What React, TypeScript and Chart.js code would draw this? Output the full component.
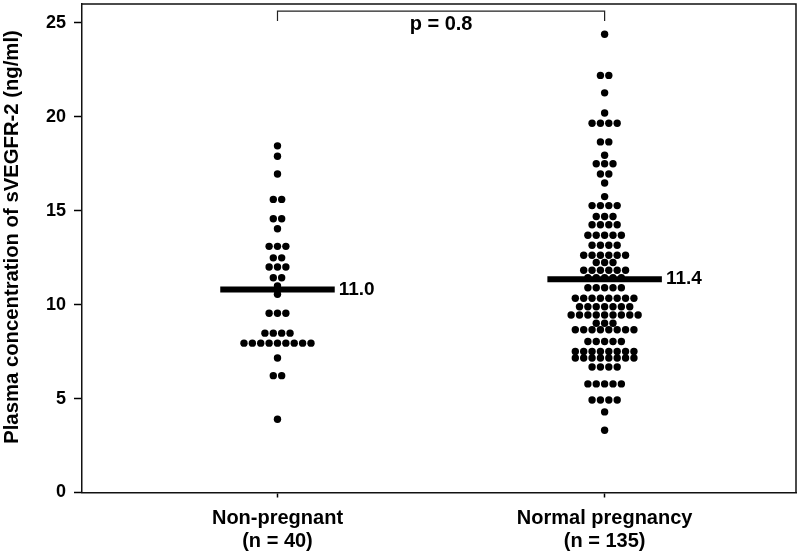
import React, { useEffect, useRef } from "react";
import { Chart, registerables } from "chart.js";

Chart.register(...registerables);

// ---- Data ----
const categories = ["Non-pregnant", "Normal pregnancy"];
const sampleSizes = ["(n = 40)", "(n = 135)"];
const categoryPositions = [1, 2];

// Dot plot rows: value of the row and the number of dots in it
const nonPregnantValues = [18.45, 17.9, 16.95, 15.6, 14.57, 14.04, 13.1, 12.49, 12.0, 11.43, 11.0, 10.55, 9.54, 8.48, 7.95, 7.16, 6.22, 3.9];
const nonPregnantCounts = [1, 1, 1, 2, 2, 1, 3, 2, 3, 2, 1, 1, 3, 4, 9, 1, 2, 1];

const normalPregnancyValues = [24.39, 22.2, 21.27, 20.2, 19.65, 18.66, 17.95, 17.5, 16.95, 16.47, 15.75, 15.27, 14.69, 14.25, 13.69, 13.16, 12.63, 12.24, 11.83, 11.43, 10.9, 10.34, 9.89, 9.45, 9.01, 8.66, 8.04, 7.51, 7.16, 6.68, 5.78, 4.92, 4.29, 3.31];
const normalPregnancyCounts = [1, 2, 1, 1, 4, 2, 1, 3, 2, 1, 1, 4, 3, 4, 5, 4, 6, 3, 6, 5, 5, 8, 7, 9, 3, 8, 5, 8, 8, 4, 5, 4, 1, 1];

const medianValues = [10.8, 11.35];
const medianLabels = ["11.0", "11.4"];
const pValueLabel = "p = 0.8";
const bracketTop = 25.62;
const bracketEnd = 25.09;
const pLabelValue = 24.9;

const yTicks = [0, 5, 10, 15, 20, 25];
const yTitle = "Plasma concentration of sVEGFR-2 (ng/ml)";

// ---- Layout constants ----
const FONT = "'Liberation Sans', Arial, Helvetica, sans-serif";
const DOT_STEP = 0.0256; // horizontal spacing between dots (x units)
const MEDIAN_HALF = 0.175;

function swarm(center: number, values: number[], counts: number[]) {
  const pts: { x: number; y: number }[] = [];
  values.forEach((v, i) => {
    const n = counts[i];
    for (let k = 0; k < n; k++) {
      pts.push({ x: center + (k - (n - 1) / 2) * DOT_STEP, y: v });
    }
  });
  return pts;
}

const overlayPlugin = {
  id: "overlay",
  afterDatasetsDraw(chart: any) {
    const { ctx, chartArea, scales } = chart;
    const xs = scales.x;
    const ys = scales.y;
    ctx.save();
    // box top & right
    ctx.strokeStyle = "#111";
    ctx.lineWidth = 1.5;
    ctx.beginPath();
    ctx.moveTo(chartArea.left, chartArea.top);
    ctx.lineTo(chartArea.right, chartArea.top);
    ctx.lineTo(chartArea.right, chartArea.bottom);
    ctx.stroke();

    ctx.fillStyle = "#000";
    ctx.font = `bold 19px ${FONT}`;
    ctx.textBaseline = "middle";
    ctx.textAlign = "left";
    categoryPositions.forEach((c, i) => {
      const x = xs.getPixelForValue(c + MEDIAN_HALF) + 4;
      const y = ys.getPixelForValue(medianValues[i]);
      ctx.fillText(medianLabels[i], x, y);
    });

    ctx.font = `bold 20px ${FONT}`;
    ctx.textAlign = "center";
    ctx.fillText(
      pValueLabel,
      xs.getPixelForValue((categoryPositions[0] + categoryPositions[1]) / 2),
      ys.getPixelForValue(pLabelValue)
    );

    // y-axis title
    ctx.translate(12, 237);
    ctx.rotate(-Math.PI / 2);
    ctx.font = `bold 20.3px ${FONT}`;
    ctx.textAlign = "center";
    ctx.textBaseline = "middle";
    ctx.fillText(yTitle, 0, 0);
    ctx.restore();
  },
};

export default function App() {
  const ref = useRef<HTMLCanvasElement | null>(null);

  useEffect(() => {
    if (!ref.current) return;
    const medianDatasets = categoryPositions.map((c, i) => ({
      type: "line" as const,
      data: [
        { x: c - MEDIAN_HALF, y: medianValues[i] },
        { x: c + MEDIAN_HALF, y: medianValues[i] },
      ],
      borderColor: "#000",
      borderWidth: 6,
      pointRadius: 0,
      showLine: true,
      borderCapStyle: "butt" as const,
      order: 0,
    }));
    const chart = new Chart(ref.current, {
      type: "scatter",
      data: {
        datasets: [
          {
            data: swarm(categoryPositions[0], nonPregnantValues, nonPregnantCounts),
            backgroundColor: "#000",
            borderWidth: 0,
            pointRadius: 3.7,
            order: 1,
          },
          {
            data: swarm(categoryPositions[1], normalPregnancyValues, normalPregnancyCounts),
            backgroundColor: "#000",
            borderWidth: 0,
            pointRadius: 3.7,
            order: 1,
          },
          ...medianDatasets,
          {
            type: "line" as const,
            data: [
              { x: categoryPositions[0], y: bracketEnd },
              { x: categoryPositions[0], y: bracketTop },
              { x: categoryPositions[1], y: bracketTop },
              { x: categoryPositions[1], y: bracketEnd },
            ],
            borderColor: "#222",
            borderWidth: 1.2,
            pointRadius: 0,
            showLine: true,
            order: 2,
          },
        ] as any,
      },
      options: {
        animation: false,
        responsive: false,
        maintainAspectRatio: false,
        devicePixelRatio: 1,
        layout: { padding: { left: 0, top: 1, right: 2, bottom: 0 } },
        plugins: {
          legend: { display: false },
          tooltip: { enabled: false },
        },
        scales: {
          x: {
            type: "linear",
            min: 0.4024,
            max: 2.585,
            afterBuildTicks: (s: any) => {
              s.ticks = categoryPositions.map((v) => ({ value: v }));
            },
            afterFit: (s: any) => {
              s.height = 58.5;
              s.paddingLeft = 0;
              s.paddingRight = 0;
            },
            ticks: {
              autoSkip: false,
              maxRotation: 0,
              padding: 10,
              color: "#000",
              font: { family: FONT, size: 20, weight: "bold", lineHeight: 1.12 },
              callback: (v: any) => {
                const i = categoryPositions.indexOf(Number(v));
                return i >= 0 ? [categories[i], sampleSizes[i]] : "";
              },
            },
            grid: {
              drawOnChartArea: false,
              tickLength: 5,
              color: "#000",
              tickWidth: 1.5,
            },
            border: { color: "#111", width: 1.5 },
          },
          y: {
            type: "linear",
            min: 0,
            max: 26,
            afterBuildTicks: (s: any) => {
              s.ticks = yTicks.map((v) => ({ value: v }));
            },
            afterFit: (s: any) => {
              s.width = 82;
              s.paddingTop = 0;
              s.paddingBottom = 0;
            },
            ticks: {
              padding: 8,
              color: "#000",
              font: { family: FONT, size: 18, weight: "bold" },
            },
            grid: {
              drawOnChartArea: false,
              tickLength: 8,
              color: "#000",
              tickWidth: 1.5,
            },
            border: { color: "#111", width: 1.5 },
          },
        },
      } as any,
      plugins: [overlayPlugin],
    });
    return () => chart.destroy();
  }, []);

  return (
    <div style={{ position: "fixed", left: 0, top: 0, width: 800, height: 551, background: "#fff" }}>
      <canvas ref={ref} width={800} height={551} style={{ width: 800, height: 551 }} />
    </div>
  );
}
